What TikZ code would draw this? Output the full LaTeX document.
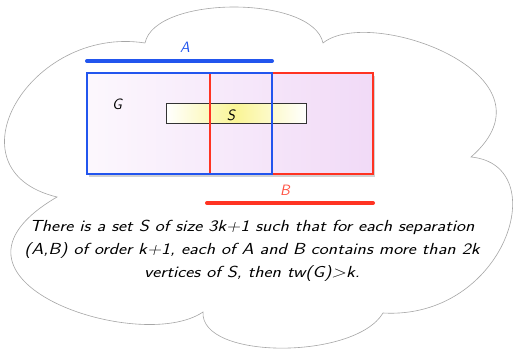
\documentclass[tikz,border=0pt]{standalone}
\usetikzlibrary{shadows}
\definecolor{sepblue}{RGB}{34,85,238}
\definecolor{sepred}{RGB}{255,51,34}
\definecolor{gpink}{RGB}{241,218,247}
\definecolor{syellow}{RGB}{250,245,150}
\tikzset{
  hand/.style={font=\fontsize{15}{23}\selectfont\sffamily\itshape},
  part/.style={line width=2.4pt},
  bar/.style={line width=4pt,line cap=round},
}
\begin{document}
\begin{tikzpicture}[x=1pt,y=-1pt]
  \useasboundingbox (0,0) rectangle (516,349);
  % cloud
  \draw[gray!70,line width=0.6pt,fill=white] (145,43)
    .. controls (155,-5) and (313,-5) .. (323,43)
    .. controls (370,5) and (565,75) .. (471,157)
    .. controls (555,165) and (505,320) .. (383,313)
    .. controls (355,360) and (200,360) .. (203,312)
    .. controls (140,355) and (-85,280) .. (57,197)
    .. controls (-55,170) and (30,25) .. (145,43);
  \coordinate (g1) at (87,73);
  \coordinate (g2) at (373,174);
  \coordinate (s1) at (166,103);
  \coordinate (s2) at (306,123);
  % graph G with the set S
  \shade[left color=gpink!20!white,right color=gpink,
    drop shadow={shadow xshift=2pt,shadow yshift=-2.5pt,opacity=.35}] (g1) rectangle (g2);
  \shadedraw[left color=white,right color=white,middle color=syellow,
    draw=black!80,line width=0.6pt] (s1) rectangle (s2);
  % the two sides
  \draw[sepred,part] (210,73) rectangle (g2);
  \draw[sepblue,part] (g1) rectangle (272,174);
  \draw[sepblue,bar] (87,61) -- (272,61);
  \draw[sepred,bar] (207,203) -- (373,203);
  \node[hand,sepblue] (labA) at (185,47) {A};
  \node[hand,sepred!85] (labB) at (285,190) {B};
  \node[hand] (labG) at (117,104) {G};
  \node[hand] (labS) at (231,115) {S};
  \node[hand,align=center,xscale=1.2,font=\fontsize{16}{23}\selectfont\sffamily\itshape] (claim) at (252,251)
    {There is a set S of size 3k+1 such that for each separation\\
     (A,B) of order k+1, each of A and B contains more than 2k\\
     vertices of S, then tw(G)>k.};
\end{tikzpicture}
\end{document}
